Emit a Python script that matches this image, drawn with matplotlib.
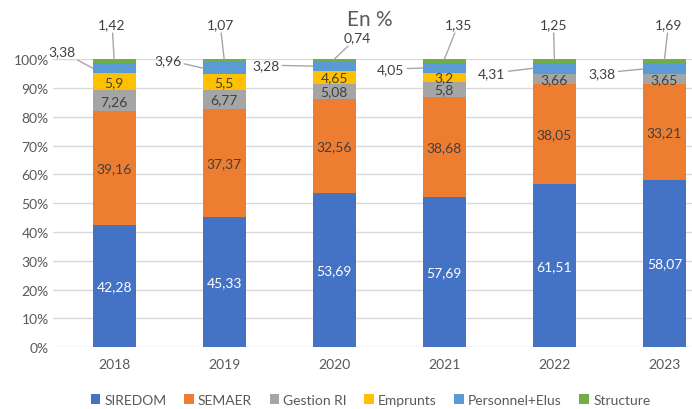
import numpy as np
import matplotlib
matplotlib.use("Agg")
import matplotlib.pyplot as plt

plt.rcParams['font.family'] = ['Lato', 'DejaVu Sans']

years = ['2018', '2019', '2020', '2021', '2022', '2023']
series_names = ['SIREDOM', 'SEMAER', 'Gestion RI', 'Emprunts', 'Personnel+Elus', 'Structure']
siredom = [42.28, 45.33, 53.69, 57.69, 61.51, 58.07]
semaer = [39.16, 37.37, 32.56, 38.68, 38.05, 33.21]
gestion_ri = [7.26, 6.77, 5.08, 5.8, 3.66, 3.65]
emprunts = [5.9, 5.5, 4.65, 3.2, 0, 0]
personnel = [3.38, 3.96, 3.28, 4.05, 4.31, 3.38]
structure = [1.42, 1.07, 0.74, 1.35, 1.25, 1.69]

colors = ['#4472C4', '#ED7D31', '#A5A5A5', '#FFC000', '#5B9BD5', '#70AD47']
label_colors = ['white', '#404040', '#404040', '#404040', None, None]

# callout offsets in pixels (personnel, structure)
pers_off = [(-31, 17), (-35, 8), (-47, 1), (-32, -1), (-41, -5), (-41, -4)]
struct_off = [(-2, 35), (-4, 35), (23, 22), (14, 35), (-1, 35), (4, 35)]

data = np.array([siredom, semaer, gestion_ri, emprunts, personnel, structure])
pct = data / data.sum(axis=0) * 100

fig = plt.figure(figsize=(6.92, 4.10), dpi=100)
ax = fig.add_axes([0.0766, 0.151, 0.9234, 0.702])

x = np.arange(len(years))
w = 0.39
bottom = np.zeros(len(years))
for k, name in enumerate(series_names):
    ax.bar(x, pct[k], w, bottom=bottom, color=colors[k], label=name, zorder=2)
    for i in range(len(years)):
        if data[k, i] == 0:
            continue
        lab = f"{data[k, i]:g}".replace('.', ',')
        mid = bottom[i] + pct[k, i] / 2
        if label_colors[k] is not None:
            ax.text(x[i], mid, lab, ha='center', va='center', fontsize=10,
                    color=label_colors[k], zorder=3)
        elif k == 4:
            ax.annotate(lab, xy=(x[i] - w / 2, mid), xytext=pers_off[i],
                        textcoords='offset pixels', ha='center', va='center',
                        fontsize=10, color='#404040',
                        arrowprops=dict(arrowstyle='-', color='#a6a6a6', lw=1,
                                        shrinkA=0, shrinkB=0))
        else:
            ax.annotate(lab, xy=(x[i], 100), xytext=struct_off[i],
                        textcoords='offset pixels', ha='center', va='center',
                        fontsize=10, color='#404040',
                        arrowprops=dict(arrowstyle='-', color='#a6a6a6', lw=1,
                                        shrinkA=0, shrinkB=0))
    bottom += pct[k]

ax.set_xlim(-0.555, 5.25)
ax.set_ylim(0, 100)
ax.set_yticks(np.arange(0, 101, 10))
ax.set_yticklabels([f"{v}%" for v in range(0, 101, 10)])
ax.set_xticks(x)
ax.set_xticklabels(years)
ax.tick_params(axis='both', length=0, labelsize=10, labelcolor='#595959')
ax.tick_params(axis='x', pad=8)
ax.tick_params(axis='y', pad=3)
ax.grid(axis='y', color='#d9d9d9', lw=1, zorder=0)
for s in ax.spines.values():
    s.set_visible(False)

fig.text(0.535, 0.952, 'En %', ha='center', va='center', fontsize=15, color='#595959')

ax.legend(loc='center', bbox_to_anchor=(0.497, -0.183), ncol=6, frameon=False,
          fontsize=10, labelcolor='#595959', handlelength=0.7, handleheight=0.7,
          handletextpad=0.3, columnspacing=1.25, borderpad=0)

fig.savefig('out.png', dpi=100)
